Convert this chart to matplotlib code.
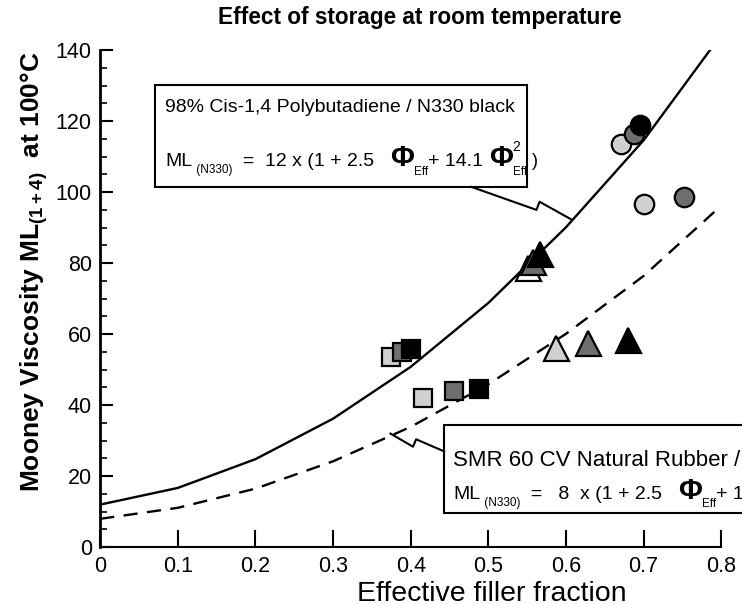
import numpy as np
import matplotlib
matplotlib.use('Agg')
import matplotlib.pyplot as plt
from matplotlib.patches import Rectangle

plt.rcParams['font.family'] = ['Liberation Sans', 'DejaVu Sans']
plt.rcParams['mathtext.fontset'] = 'custom'
plt.rcParams['mathtext.rm'] = 'Liberation Sans'
plt.rcParams['mathtext.bf'] = 'Liberation Sans:bold'

# model curves (read at 0.1 steps)
phi = [0.0, 0.1, 0.2, 0.3, 0.4, 0.5, 0.6, 0.7, 0.8]
ml_br = [12.0, 16.7, 24.8, 36.2, 50.8, 68.8, 90.1, 114.6, 144.3]
ml_nr = [8.0, 11.1, 16.5, 24.2, 33.9, 45.9, 60.1, 76.4, 96.2]

# measured points per marker group (light, mid, dark)
sq_br_x = [0.375, 0.389, 0.400]
sq_br_y = [53.5, 55.0, 55.7]
sq_nr_x = [0.416, 0.456, 0.488]
sq_nr_y = [42.1, 43.9, 44.7]
tri_br_x = [0.551, 0.558, 0.567]
tri_br_y = [78.5, 80.4, 82.7]
tri_nr_x = [0.587, 0.628, 0.680]
tri_nr_y = [56.0, 57.4, 58.3]
cir_br_x = [0.671, 0.687, 0.696]
cir_br_y = [113.7, 116.5, 118.9]
cir_nr_x = [0.701, 0.752]
cir_nr_y = [96.8, 98.7]

light = '#d0d0d0'
mid = '#6e6e6e'
dark = '#000000'

fig = plt.figure(figsize=(7.42, 6.04), dpi=100)
ax = fig.add_axes([0.135, 0.094, 0.837, 0.823])

ax.plot(phi, ml_br, color='black', lw=1.7, zorder=2)
ax.plot(phi, ml_nr, color='black', lw=1.7, ls=(0, (6, 4)), zorder=2)


def pts(xs, ys, marker, size, fills):
    for x, y, c in zip(xs, ys, fills):
        ax.plot(x, y, marker=marker, ms=size, mfc=c, mec='black', mew=1.6,
                ls='none', zorder=3)


pts(sq_br_x, sq_br_y, 's', 12.5, [light, mid, dark])
pts(sq_nr_x, sq_nr_y, 's', 12.5, [light, mid, dark])
pts(tri_br_x, tri_br_y, '^', 18, ['white', mid, dark])
pts(tri_nr_x, tri_nr_y, '^', 18, [light, mid, dark])
pts(cir_br_x, cir_br_y, 'o', 14, [light, mid, dark])
pts(cir_nr_x, cir_nr_y, 'o', 14, [light, mid])

ax.set_xlim(0, 0.8)
ax.set_ylim(0, 140)
ax.set_xticks(np.arange(0, 0.81, 0.1))
ax.set_xticklabels(['0', '0.1', '0.2', '0.3', '0.4', '0.5', '0.6', '0.7', '0.8'])
ax.set_yticks(np.arange(0, 141, 20))
ax.set_yticks(np.arange(0, 141, 5), minor=True)
ax.tick_params(direction='in', labelsize=15.5, length=9, width=1.5)
ax.tick_params(which='minor', direction='in', length=5, width=1.2)
ax.tick_params(axis='x', length=12, pad=6)
ax.tick_params(axis='y', pad=6)
for s in ['top', 'right']:
    ax.spines[s].set_visible(False)
ax.spines['left'].set_linewidth(2)
ax.spines['bottom'].set_linewidth(1.5)

ax.set_xlabel('Effective filler fraction', fontsize=20.5, va='baseline')
ax.xaxis.set_label_coords(0.63, -0.109)
ax.set_ylabel(r'Mooney Viscosity ML$_{\mathbf{(1+4)}}$  at 100°C', fontsize=19,
              fontweight='bold')
ax.yaxis.set_label_coords(-0.08, 0.553)
fig.text(0.566, 0.971, 'Effect of storage at room temperature', fontsize=16.3,
         fontweight='bold', ha='center', va='center')


def formula(x, y, coef):
    # pieces: text, size, weight, baseline shift (points), attach index
    first = ax.text(x, y, 'ML', fontsize=14, va='baseline', zorder=5, clip_on=False)
    items = [first]
    parts = [(' (N330)', 8.5, 'normal', -5, 0),
             ('  =  ' + coef + ' x (1 + 2.5   ', 14, 'normal', 0, 1),
             ('Φ', 21, 'bold', 0, 2),
             ('Eff', 8.5, 'normal', -6, 3),
             ('+ 14.1 ', 14, 'normal', 0, 4),
             ('Φ', 21, 'bold', 0, 5),
             ('2', 10, 'normal', 11, 6),
             ('Eff', 8.5, 'normal', -6, 6),
             (' )', 13, 'normal', 0, 8)]
    for txt, size, weight, dy, att in parts:
        t = ax.annotate(txt, xy=(1, y), xycoords=(items[att], 'data'),
                        xytext=(0, dy), textcoords='offset points',
                        fontsize=size, fontweight=weight, va='baseline',
                        ha='left', zorder=5, annotation_clip=False)
        items.append(t)


# annotation boxes
ax.add_patch(Rectangle((0.071, 101.5), 0.479, 28.6, fc='white', ec='black',
                       lw=1.5, zorder=4, clip_on=False))
ax.text(0.084, 123.8, '98% Cis-1,4 Polybutadiene / N330 black', fontsize=14,
        va='center', zorder=5)
formula(0.084, 107.3, '12')
ax.plot([0.478, 0.562, 0.566, 0.607], [101.5, 95.0, 97.3, 92.3], color='black',
        lw=1.5, zorder=4, clip_on=False)

ax.add_patch(Rectangle((0.443, 9.6), 0.5, 24.8, fc='white', ec='black',
                       lw=1.5, zorder=4, clip_on=False))
ax.text(0.455, 24.5, 'SMR 60 CV Natural Rubber / N330 black', fontsize=16,
        va='center', zorder=5, clip_on=False)
formula(0.455, 13.6, ' 8 ')
ax.plot([0.374, 0.403, 0.407, 0.443], [32.0, 28.3, 30.4, 27.0], color='black',
        lw=1.5, zorder=4, clip_on=False)

fig.savefig('out.png', dpi=100)
